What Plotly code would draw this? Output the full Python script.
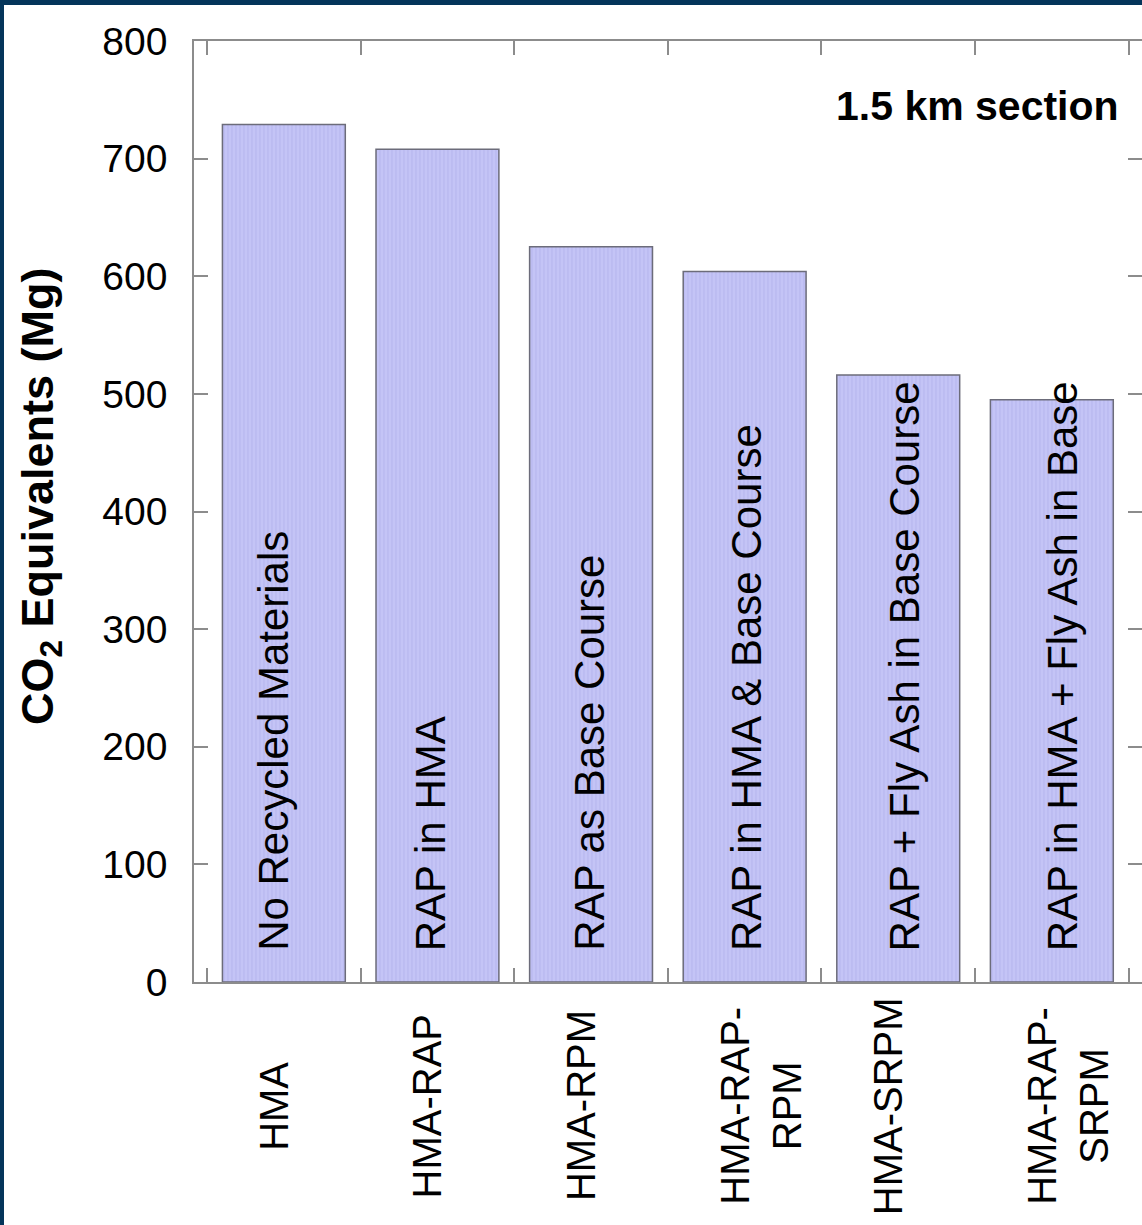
import plotly.graph_objects as go

# CO2 equivalents per pavement scenario, 1.5 km section
categories = ["HMA", "HMA-RAP", "HMA-RPM", "HMA-RAP-RPM", "HMA-SRPM", "HMA-RAP-SRPM"]
tick_labels = ["HMA", "HMA-RAP", "HMA-RPM", "HMA-RAP-<br>RPM", "HMA-SRPM", "HMA-RAP-<br>SRPM"]
descriptions = [
    "No Recycled Materials",
    "RAP in HMA",
    "RAP as Base Course",
    "RAP in HMA & Base Course",
    "RAP + Fly Ash in Base Course",
    "RAP in HMA + Fly Ash in Base",
]
co2_mg = [729, 708, 625, 604, 516, 495]
y_ticks = [0, 100, 200, 300, 400, 500, 600, 700, 800]

FONT = "Liberation Sans, Arial, Helvetica, sans-serif"
W, H = 1142, 1225
ML, MR, MT, MB = 194, 0, 41, 243
PW, PH = W - ML - MR, H - MT - MB


def px_x(px):
    return (px - ML) / PW


def px_y(py):
    return (H - MB - py) / PH


fig = go.Figure()
fig.add_trace(go.Bar(
    x=categories,
    y=co2_mg,
    marker=dict(
        color="#c2c2f5",
        line=dict(color="#6c6c7a", width=1.5),
        pattern=dict(shape="|", bgcolor="#c4c4f6", fgcolor="#adade9",
                     size=4, solidity=0.35),
    ),
    showlegend=False,
    hoverinfo="x+y",
))
# same values on the right-hand axis, invisible, so its inside ticks are drawn
fig.add_trace(go.Bar(
    x=categories, y=co2_mg, yaxis="y2",
    marker=dict(color="rgba(0,0,0,0)", line=dict(width=0)),
    showlegend=False, hoverinfo="skip",
))

annotations = []

# scenario descriptions written up inside each bar
for i, (cat, txt) in enumerate(zip(categories, descriptions)):
    annotations.append(dict(
        x=cat, y=0, xref="x", yref="y",
        text=txt, textangle=-90, showarrow=False,
        xanchor="center", yanchor="bottom",
        xshift=-11 + 4.3 * i, yshift=29,
        font=dict(family=FONT, size=42, color="#000000"),
    ))

# rotated category labels below the axis
for cat, lab in zip(categories, tick_labels):
    annotations.append(dict(
        x=cat, y=px_y(1106), xref="x", yref="paper",
        text=lab, textangle=-90, showarrow=False, align="center",
        xanchor="left", yanchor="middle", xshift=-34,
        font=dict(family=FONT, size=40, color="#000000"),
    ))

# section note
annotations.append(dict(
    x=px_x(1121), y=px_y(106), xref="paper", yref="paper",
    text="<b>1.5 km section</b>", showarrow=False,
    xanchor="right", yanchor="middle",
    font=dict(family=FONT, size=41, color="#000000"),
))

# y-axis title
annotations.append(dict(
    x=px_x(41), y=px_y(496), xref="paper", yref="paper",
    text="<b>CO<sub>2</sub> Equivalents (Mg)</b>", textangle=-90, showarrow=False,
    xanchor="center", yanchor="middle",
    font=dict(family=FONT, size=45, color="#000000"),
))

# dark frame along the top and left edges of the page
frame = "#04355a"
shapes = [
    dict(type="rect", xref="paper", yref="paper", layer="above",
         x0=px_x(0), x1=px_x(4), y0=px_y(H), y1=px_y(0),
         fillcolor=frame, line=dict(width=0)),
    dict(type="rect", xref="paper", yref="paper", layer="above",
         x0=px_x(0), x1=px_x(W), y0=px_y(5), y1=px_y(0),
         fillcolor=frame, line=dict(width=0)),
]

axis_col = "#8c8c8c"
fig.update_layout(
    width=W, height=H,
    margin=dict(l=ML, r=MR, t=MT, b=MB, pad=0),
    paper_bgcolor="#ffffff", plot_bgcolor="#ffffff",
    bargap=0.2, barmode="overlay",
    font=dict(family=FONT, color="#000000"),
    xaxis=dict(
        type="category", range=[-0.585, 5.587],
        tickson="boundaries", ticks="inside", ticklen=14, tickwidth=1.5,
        tickcolor=axis_col, showticklabels=False,
        showline=True, linecolor=axis_col, linewidth=1.5, mirror="ticks",
        showgrid=False, zeroline=False, fixedrange=True,
    ),
    yaxis=dict(
        range=[0, 800], tickvals=y_ticks,
        ticks="inside", ticklen=14, tickwidth=1.5, tickcolor=axis_col,
        tickfont=dict(family=FONT, size=39, color="#000000"),
        ticklabelstandoff=17,
        showline=True, linecolor=axis_col, linewidth=1.5, mirror=False,
        showgrid=False, zeroline=False, fixedrange=True,
    ),
    yaxis2=dict(
        overlaying="y", side="right", range=[0, 800], tickvals=y_ticks,
        ticks="inside", ticklen=14, tickwidth=1.5, tickcolor=axis_col,
        showticklabels=False, showline=False,
        showgrid=False, zeroline=False, fixedrange=True,
    ),
    annotations=annotations,
    shapes=shapes,
)

fig.write_html("out.html")
